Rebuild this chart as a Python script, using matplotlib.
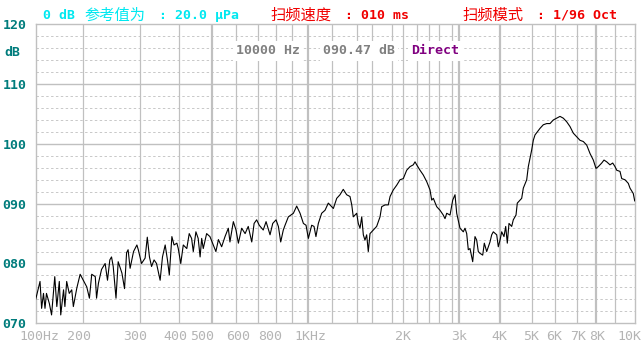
import numpy as np
import matplotlib
matplotlib.use("Agg")
import matplotlib.pyplot as plt
import matplotlib.transforms as mtransforms

freq = [100, 106.5, 109, 112, 114.5, 117, 122, 126, 132, 136, 141, 144, 150, 153, 157, 163, 169, 173, 182, 191,
        200, 205, 209, 212.5, 218, 220, 223, 228, 234, 238, 242, 245, 248, 253, 257, 264, 269, 273, 276, 280, 287, 294, 297,
        304, 312, 317, 322, 327, 333, 339, 348, 354, 361, 367, 372, 379, 385, 393, 397,
        404, 411, 421, 428, 435, 440, 448, 455, 461, 466, 471, 482, 493,
        505, 515, 525, 538, 552, 566, 573, 588, 600,
        610, 624, 639, 653, 669, 680, 692, 705, 727, 743, 766, 782, 802, 816, 830, 846, 857, 878, 910, 930, 951, 972, 989,
        1005, 1030, 1048, 1063, 1082, 1109, 1137, 1165, 1195, 1208, 1234, 1260, 1286, 1314, 1342, 1357, 1370, 1400,
        1420, 1442, 1464, 1485, 1507, 1530, 1552, 1576, 1615, 1646, 1678, 1694, 1727, 1759, 1777, 1817, 1878, 1938,
        2000, 2049, 2098, 2147, 2174, 2200, 2252, 2305, 2361, 2419, 2451, 2482, 2548, 2611, 2661, 2688, 2715, 2768,
        2819, 2881, 2927,
        3015, 3086, 3123, 3161, 3197, 3236, 3298, 3352, 3393, 3431, 3473, 3540, 3580, 3641, 3683, 3727, 3772, 3815,
        3908, 3952, 4000,
        4048, 4114, 4164, 4211, 4261, 4343, 4392, 4477, 4518, 4605, 4660, 4713, 4827, 4882, 4941, 5000,
        5063, 5131, 5224, 5336, 5475, 5623, 5770, 5921,
        6073, 6217, 6365, 6520, 6675, 6833, 7000,
        7162, 7327, 7502, 7675, 7852, 8000,
        8115, 8288, 8407, 8549, 8725, 8873, 9000,
        9082, 9244, 9329, 9495, 9664, 9752, 9925, 10000]
level = [74.0, 77.0, 72.5, 75.0, 72.5, 75.0, 73.3, 71.4, 77.8, 72.8, 77.0, 71.4, 75.6, 72.8, 77.0, 75.0, 75.6, 72.8, 75.9, 78.2,
         77.2, 76.1, 74.2, 78.2, 77.8, 74.2, 76.7, 79.0, 80.0, 77.2, 80.6, 81.1, 79.5, 74.2, 80.3, 78.4, 75.8, 81.8, 82.3, 79.2, 82.0, 83.1, 82.3,
         80.0, 80.9, 84.4, 81.1, 79.5, 80.6, 80.0, 77.2, 81.1, 83.1, 80.6, 78.1, 84.5, 83.1, 83.4, 82.5,
         80.0, 83.1, 82.5, 85.0, 84.2, 82.0, 85.3, 84.2, 81.1, 84.2, 82.5, 85.0, 84.5,
         83.1, 82.0, 84.0, 82.8, 84.5, 85.9, 83.6, 87.0, 85.6,
         83.4, 85.9, 85.0, 86.2, 83.6, 86.7, 87.3, 86.4, 85.6, 87.0, 84.8, 86.7, 87.3, 86.2, 83.6, 85.6, 86.4, 87.8, 88.4, 89.6, 88.4, 86.7, 86.4,
         84.2, 86.4, 86.2, 84.5, 86.7, 88.4, 88.9, 90.1, 89.5, 89.2, 90.9, 91.5, 92.4, 91.5, 91.2, 89.8, 87.8, 88.4,
         86.7, 85.9, 87.8, 84.8, 83.9, 84.8, 82.0, 85.0, 85.6, 86.2, 87.8, 89.5, 89.8, 89.8, 91.2, 92.3, 93.1, 94.0,
         94.2, 95.6, 96.2, 96.5, 97.0, 96.5, 95.6, 94.8, 93.7, 92.3, 90.6, 90.9, 89.5, 88.9, 88.1, 87.5, 88.4, 88.1,
         90.6, 91.5, 88.4,
         85.9, 85.3, 85.9, 85.0, 82.3, 82.5, 80.3, 84.5, 83.9, 82.0, 81.7, 81.4, 83.4, 82.0, 82.8, 83.6, 84.8, 85.3,
         84.8, 82.8, 83.9,
         85.3, 84.5, 86.2, 83.4, 86.7, 86.2, 87.3, 88.1, 90.1, 90.6, 90.9, 92.6, 94.0, 96.2, 97.6, 99.0,
         100.6, 101.5, 102.0, 102.6, 103.2, 103.4, 103.4, 104.0,
         104.3, 104.6, 104.3, 103.7, 102.9, 101.8, 101.2,
         100.6, 100.4, 99.8, 98.4, 97.3, 95.9,
         96.2, 96.8, 97.3, 97.0, 96.5, 96.8, 96.2,
         95.6, 95.4, 94.2, 94.0, 93.4, 92.6, 91.7, 90.47]

y_ticks = [70, 80, 90, 100, 110, 120]
y_labels = ["070", "080", "090", "100", "110", "120"]
x_ticks = [100, 200, 300, 400, 500, 600, 800, 1000, 2000, 3000, 4000, 5000, 6000, 7000, 8000, 10000]
x_labels = ["100Hz", "200", "300", "400", "500", "600", "800", "1KHz", "2K", "3k", "4K", "5K", "6K", "7K", "8K", "10K"]
x_label_shift = [4, -4, -5, -4, -10, 2, -6, 3, 0, 0, -1, -1, -1, 1, 1, -5]  # px nudges, as on the analyser screen

# the analyser's frequency axis is log-ish but piecewise; grid frequencies and where they sit (px)
grid_f = [100, 200, 300, 400, 500, 600, 700, 800, 900, 1000, 1200, 1400, 1600, 1800, 2000,
          2200, 2400, 2600, 2800, 3000, 4000, 5000, 6000, 7000, 8000, 9000, 10000]
grid_px = [35.7, 83.3, 139.7, 179.3, 212, 236, 258.3, 275.7, 291.7, 307.7, 332.3, 356.7, 371.7, 392.3, 403.3,
           416.7, 429, 439.3, 452, 459.3, 500, 531.7, 555, 576.7, 596, 615, 634.7]
thick_f = [500, 1000, 3000, 4000, 8000]

GRID = "#c0c0c0"
TEAL = "#007c7c"
CYAN = "#00e8f0"
RED = "#f00000"
MONO = ["DejaVu Sans Mono", "Noto Sans CJK SC"]
CJK = ["Noto Sans CJK SC", "DejaVu Sans"]

# header pieces: (text, left px, colour, is_cjk)
header = [("0 dB", 43, CYAN, False), ("参考值为", 84, CYAN, True), (": 20.0 μPa", 159, CYAN, False),
          ("扫频速度", 270, RED, True), (": 010 ms", 345, RED, False),
          ("扫频模式", 462, RED, True), (": 1/96 Oct", 537, RED, False)]


def piecewise(xs, ys):
    xs = np.asarray(xs, float)
    ys = np.asarray(ys, float)
    s0 = (ys[1] - ys[0]) / (xs[1] - xs[0])
    s1 = (ys[-1] - ys[-2]) / (xs[-1] - xs[-2])

    def f(v):
        v = np.asarray(v, float)
        out = np.interp(v, xs, ys)
        out = np.where(v < xs[0], ys[0] + (v - xs[0]) * s0, out)
        out = np.where(v > xs[-1], ys[-1] + (v - xs[-1]) * s1, out)
        return out
    return f


def main():
    lk = np.log10(grid_f)
    to_px = piecewise(lk, grid_px)
    to_lf = piecewise(grid_px, lk)

    def forward(f):
        return to_px(np.log10(np.clip(np.asarray(f, float), 1e-3, None)))

    def inverse(p):
        return 10 ** to_lf(p)

    W, H = 644, 346
    fig = plt.figure(figsize=(W / 100, H / 100), dpi=100)
    ax = fig.add_axes([35.7 / W, (H - 323.3) / H, (634.7 - 35.7) / W, (323.3 - 24.3) / H])
    ax.set_xscale("function", functions=(forward, inverse))
    ax.set_xlim(100, 10000)
    ax.set_ylim(70, 120)

    # grid
    for v in range(72, 120, 2):
        if v % 10 == 0:
            ax.axhline(v, color=GRID, lw=1.0, zorder=1)
        else:
            ax.axhline(v, color="#c8c8c8", lw=0.7, dashes=(2.5, 2.5), zorder=1)
    for f in grid_f[1:-1]:
        ax.axvline(f, color=GRID, lw=1.6 if f in thick_f else 0.9, zorder=1)
    for s in ax.spines.values():
        s.set_color(GRID)
        s.set_linewidth(1.0)

    ax.plot(freq, level, color="black", lw=0.8, zorder=3)

    ax.set_yticks(y_ticks)
    ax.set_yticklabels(y_labels, family=MONO, fontweight="bold", fontsize=9.5, color=TEAL)
    ax.tick_params(axis="y", length=0, pad=6.5)
    ax.set_xticks([])
    ax.minorticks_off()

    trans = ax.get_xaxis_transform()
    for f, lab, dx in zip(x_ticks, x_labels, x_label_shift):
        off = mtransforms.ScaledTranslation(dx / 100, -13 / 100, fig.dpi_scale_trans)
        ax.text(f, 0, lab, transform=trans + off, ha="center", va="center",
                family=MONO, fontsize=9.5, color="#b4b4b4", clip_on=False)

    fig.text(4 / W, 1 - 52 / H, "dB", family=MONO, fontweight="bold", fontsize=9.5,
             color=TEAL, ha="left", va="center")

    # header line
    for txt, x, col, cjk in header:
        if cjk:
            fig.text(x / W, 1 - 15.5 / H, txt, family=CJK, fontsize=11, color=col,
                     ha="left", va="center")
        else:
            fig.text(x / W, 1 - 15.5 / H, txt, family=MONO, fontweight="bold", fontsize=9.5,
                     color=col, ha="left", va="center")

    # cursor readout box
    box = dict(facecolor="white", edgecolor="none", pad=2.5)
    fig.text(236 / W, 1 - 51 / H, "10000 Hz", family=MONO, fontweight="bold", fontsize=9.5,
             color="#808080", ha="left", va="center", bbox=box)
    fig.text(323 / W, 1 - 51 / H, "090.47 dB", family=MONO, fontweight="bold", fontsize=9.5,
             color="#808080", ha="left", va="center", bbox=box)
    fig.text(411 / W, 1 - 51 / H, "Direct", family=MONO, fontweight="bold", fontsize=9.5,
             color="#800080", ha="left", va="center", bbox=box)

    plt.savefig("out.png", dpi=100)


if __name__ == '__main__':
    main()
